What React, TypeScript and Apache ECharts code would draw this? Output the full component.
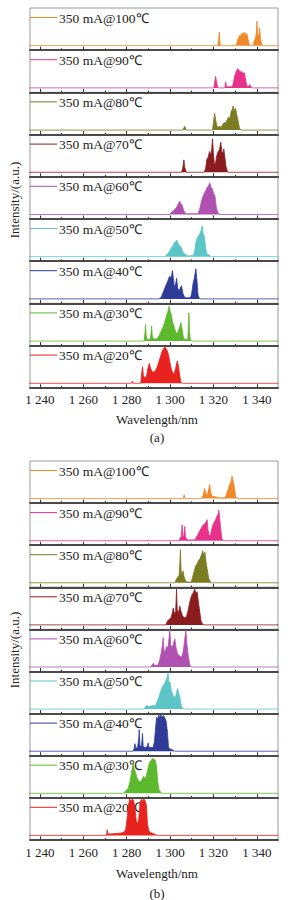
import React, { useEffect, useRef } from 'react';
import * as echarts from 'echarts';

// ---------- data ----------
const temps = [100, 90, 80, 70, 60, 50, 40, 30, 20];
const colors = ['#f0892a', '#e8328a', '#7b7b22', '#8b1c1e', '#b050b0', '#5cc5c5', '#2e3b98', '#5cb82c', '#e8221e'];
const majorTicks = [1240, 1260, 1280, 1300, 1320, 1340];
const minorTicks = [1250, 1270, 1290, 1310, 1330];
const xMin = 1235.4;
const xMax = 1349.8;

// panel (a)
const a100 = [[1235,0],[1322,0],[1322.4,0.15],[1322.7,0.36],[1323,0.1],[1323.3,0],[1330.5,0],[1331,0.12],[1331.6,0.22],[1332.2,0.28],[1332.7,0.25],[1333.2,0.34],[1333.7,0.3],[1334.3,0.36],[1334.8,0.27],[1335.4,0.33],[1335.9,0.2],[1336.4,0.05],[1337,0],[1338.3,0],[1338.8,0.12],[1339.4,0.2],[1339.8,0.35],[1340.1,0.65],[1340.4,0.3],[1340.9,0.25],[1341.3,0.48],[1341.7,0.2],[1342.3,0.03],[1343,0],[1350,0]];
const a90 = [[1235,0],[1320.2,0],[1320.6,0.15],[1321,0.31],[1321.4,0.18],[1321.9,0.03],[1322.4,0],[1325.3,0],[1325.7,0.16],[1326.1,0.02],[1326.5,0.03],[1328.8,0.03],[1329.4,0.2],[1330,0.35],[1330.6,0.45],[1331.2,0.51],[1331.8,0.47],[1332.4,0.42],[1333,0.44],[1333.6,0.38],[1334.3,0.4],[1334.9,0.2],[1335.4,0.05],[1336.3,0.04],[1336.8,0.09],[1337.3,0.02],[1338,0],[1350,0]];
const a80 = [[1235,0],[1306,0],[1306.4,0.06],[1306.8,0.1],[1307.2,0.03],[1307.6,0],[1319.6,0],[1320,0.2],[1320.6,0.44],[1321.1,0.25],[1321.6,0.1],[1322.3,0.08],[1323,0.1],[1323.6,0.07],[1324.3,0.15],[1325,0.2],[1325.7,0.18],[1326.3,0.27],[1327,0.35],[1327.6,0.3],[1328.2,0.5],[1328.7,0.55],[1329.1,0.64],[1329.6,0.52],[1330.2,0.58],[1330.8,0.4],[1331.4,0.25],[1332,0.06],[1332.6,0],[1350,0]];
const a70 = [[1235,0],[1305.3,0],[1305.8,0.1],[1306.1,0.2],[1306.4,0.33],[1306.7,0.15],[1307.2,0.05],[1307.6,0],[1315.8,0],[1316.4,0.1],[1317,0.35],[1317.6,0.4],[1318.2,0.55],[1318.7,0.45],[1319.2,0.6],[1319.6,0.89],[1320,0.5],[1320.5,0.2],[1321,0.25],[1321.6,0.45],[1322.2,0.55],[1322.8,0.6],[1323.4,0.8],[1323.9,0.55],[1324.4,0.5],[1324.8,0.62],[1325.3,0.4],[1325.8,0.15],[1326.4,0.03],[1327,0],[1350,0]];
const a60 = [[1235,0],[1299.8,0],[1300.6,0.05],[1301.5,0.1],[1302.5,0.15],[1303.3,0.22],[1304,0.3],[1304.5,0.35],[1305,0.28],[1305.6,0.25],[1306.2,0.12],[1306.8,0.05],[1307.5,0.02],[1312.8,0.02],[1313.6,0.12],[1314.3,0.3],[1315,0.45],[1315.7,0.55],[1316.4,0.62],[1317.1,0.72],[1317.7,0.75],[1318.3,0.84],[1318.9,0.72],[1319.5,0.68],[1320.1,0.55],[1320.7,0.5],[1321.3,0.2],[1322,0.06],[1322.8,0],[1350,0]];
const a50 = [[1235,0],[1297.5,0],[1298.5,0.05],[1299.5,0.12],[1300.5,0.22],[1301.3,0.3],[1302,0.37],[1302.7,0.4],[1303.1,0.44],[1303.7,0.36],[1304.4,0.3],[1305.1,0.25],[1305.9,0.12],[1306.7,0.08],[1307.6,0.04],[1308.5,0.02],[1310.8,0.03],[1311.4,0.15],[1312,0.4],[1312.6,0.5],[1313.2,0.55],[1313.8,0.62],[1314.4,0.7],[1314.8,0.82],[1315.3,0.6],[1315.8,0.55],[1316.3,0.3],[1316.8,0.1],[1317.5,0.06],[1318.3,0.03],[1319,0],[1350,0]];
const a40 = [[1235,0],[1295,0],[1296,0.05],[1297,0.2],[1298,0.35],[1298.8,0.45],[1299.4,0.55],[1299.9,0.6],[1300.5,0.55],[1301.1,0.75],[1301.6,0.5],[1302.1,0.3],[1302.6,0.4],[1303,0.55],[1303.5,0.3],[1304.1,0.2],[1304.7,0.28],[1305.3,0.35],[1305.9,0.15],[1306.6,0.05],[1307.5,0.03],[1309.4,0.03],[1310,0.15],[1310.6,0.4],[1311.2,0.55],[1311.9,0.8],[1312.4,0.5],[1312.9,0.1],[1313.5,0.02],[1314,0],[1350,0]];
const a30 = [[1235,0],[1288,0],[1288.4,0.2],[1288.7,0.44],[1289,0.15],[1289.5,0.04],[1290.8,0.04],[1291.2,0.2],[1291.5,0.4],[1291.8,0.12],[1292.5,0.05],[1294,0.06],[1295,0.15],[1295.8,0.25],[1296.6,0.35],[1297.3,0.45],[1298,0.6],[1298.6,0.72],[1299.1,0.8],[1299.6,0.93],[1300.1,0.78],[1300.6,0.7],[1301.2,0.5],[1301.8,0.4],[1302.4,0.28],[1303,0.2],[1303.7,0.25],[1304.3,0.35],[1305,0.49],[1305.6,0.3],[1306.2,0.08],[1307,0.04],[1308.2,0.05],[1308.5,0.4],[1308.7,0.75],[1308.9,0.35],[1309.3,0.04],[1310,0],[1350,0]];
const a20 = [[1235,0],[1282.2,0],[1282.6,0.05],[1283,0],[1286.5,0],[1286.9,0.25],[1287.3,0.44],[1287.7,0.2],[1288.4,0.15],[1289.2,0.2],[1289.8,0.4],[1290.4,0.53],[1291,0.4],[1291.8,0.3],[1292.6,0.3],[1293.4,0.35],[1294.2,0.45],[1295,0.6],[1295.8,0.75],[1296.6,0.88],[1297.6,0.97],[1298.4,0.9],[1299.1,0.8],[1299.8,0.6],[1300.5,0.4],[1301.2,0.28],[1301.9,0.25],[1302.6,0.4],[1303.3,0.59],[1303.9,0.45],[1304.5,0.2],[1305,0.03],[1305.6,0],[1350,0]];

// panel (b)
const b100 = [[1235,0],[1306,0],[1306.3,0.05],[1306.5,0.1],[1306.8,0.02],[1307.3,0],[1314.5,0],[1315.2,0.08],[1315.7,0.2],[1316,0.27],[1316.5,0.12],[1317.2,0.1],[1317.8,0.25],[1318.3,0.38],[1318.8,0.15],[1319.5,0.06],[1320.5,0.05],[1321.5,0.04],[1322.2,0.02],[1325.3,0.02],[1326,0.1],[1326.8,0.25],[1327.5,0.38],[1328.1,0.45],[1328.6,0.6],[1329.1,0.48],[1329.7,0.3],[1330.3,0.05],[1331,0],[1350,0]];
const b90 = [[1235,0],[1304,0],[1304.6,0.06],[1305.2,0.12],[1305.6,0.42],[1305.9,0.12],[1306.3,0.1],[1306.8,0.38],[1307.1,0.1],[1307.6,0.05],[1308.3,0.02],[1311.5,0.02],[1312.2,0.1],[1313,0.18],[1313.8,0.28],[1314.5,0.35],[1315.3,0.42],[1316,0.45],[1316.6,0.5],[1317.1,0.56],[1317.5,0.3],[1318,0.15],[1318.6,0.12],[1319.1,0.28],[1319.7,0.4],[1320.4,0.5],[1321,0.55],[1321.6,0.65],[1322.1,0.7],[1322.5,0.82],[1322.9,0.6],[1323.4,0.3],[1323.9,0.06],[1324.5,0],[1350,0]];
const b80 = [[1235,0],[1302.2,0],[1302.8,0.08],[1303.5,0.15],[1304.2,0.2],[1304.5,0.5],[1304.8,0.88],[1305.1,0.3],[1305.6,0.2],[1306,0.32],[1306.5,0.15],[1307.2,0.05],[1308,0.02],[1309.8,0.02],[1310.4,0.15],[1311.1,0.3],[1311.8,0.45],[1312.5,0.5],[1313.2,0.6],[1313.9,0.65],[1314.5,0.75],[1315.1,0.85],[1315.6,0.7],[1316.1,0.82],[1316.6,0.55],[1317.2,0.35],[1317.8,0.12],[1318.5,0.04],[1319.2,0],[1350,0]];
const b70 = [[1235,0],[1298,0],[1298.8,0.1],[1299.6,0.15],[1300.4,0.18],[1301,0.3],[1301.5,0.45],[1302,0.3],[1302.6,0.35],[1303,0.95],[1303.3,0.4],[1303.8,0.3],[1304.5,0.5],[1305.1,0.35],[1305.7,0.25],[1306.3,0.2],[1307,0.18],[1307.6,0.22],[1308.2,0.35],[1308.9,0.55],[1309.5,0.7],[1310.1,0.8],[1310.7,0.85],[1311.4,0.95],[1311.9,0.85],[1312.5,0.88],[1313.1,0.6],[1313.7,0.35],[1314.3,0.1],[1315,0.02],[1315.6,0],[1350,0]];
const b60 = [[1235,0],[1291.2,0],[1291.8,0.06],[1292.3,0.1],[1292.8,0.04],[1294.5,0.05],[1295.3,0.2],[1296,0.4],[1296.5,0.6],[1296.8,0.78],[1297.2,0.45],[1297.8,0.4],[1298.4,0.55],[1299,0.5],[1299.5,0.75],[1299.9,1.0],[1300.3,0.6],[1300.9,0.5],[1301.5,0.6],[1302.2,0.75],[1302.8,0.5],[1303.5,0.35],[1304.2,0.3],[1305,0.28],[1305.7,0.3],[1306.4,0.55],[1306.9,0.8],[1307.3,0.98],[1307.8,0.6],[1308.4,0.3],[1309.1,0.05],[1309.8,0],[1350,0]];
const b50 = [[1235,0],[1288,0],[1288.5,0.05],[1289.3,0.1],[1290.2,0.06],[1291.3,0.08],[1292.3,0.1],[1293.2,0.08],[1294,0.2],[1294.8,0.3],[1295.5,0.45],[1296.2,0.55],[1297,0.65],[1297.7,0.7],[1298.3,0.8],[1298.7,0.85],[1299.1,0.97],[1299.5,0.7],[1300,0.72],[1300.6,0.5],[1301.2,0.4],[1301.8,0.3],[1302.5,0.32],[1303,0.45],[1303.5,0.55],[1304,0.42],[1304.6,0.3],[1305.2,0.08],[1305.8,0.03],[1306.5,0],[1350,0]];
const b40 = [[1235,0],[1282.8,0],[1283.4,0.06],[1283.8,0.2],[1284.2,0.08],[1285,0.1],[1285.5,0.3],[1285.8,0.57],[1286.1,0.15],[1286.8,0.12],[1287.1,0.3],[1287.3,0.47],[1287.6,0.12],[1288.5,0.1],[1289.5,0.12],[1289.9,0.22],[1290.3,0.1],[1291.2,0.1],[1292.2,0.1],[1292.8,0.25],[1293.3,0.6],[1293.8,0.9],[1294.3,0.85],[1294.8,0.97],[1295.3,0.88],[1295.8,0.97],[1296.4,0.9],[1297,0.95],[1297.6,0.88],[1298.2,0.8],[1298.8,0.5],[1299.3,0.1],[1300,0.06],[1301,0.04],[1302,0],[1350,0]];
const b30 = [[1235,0],[1278.5,0],[1279.2,0.05],[1280,0.08],[1280.8,0.15],[1281.5,0.3],[1282.2,0.55],[1282.7,0.72],[1283,0.8],[1283.5,0.65],[1284.1,0.55],[1284.7,0.42],[1285.3,0.35],[1286,0.3],[1286.7,0.32],[1287.3,0.4],[1287.9,0.45],[1288.5,0.38],[1289,0.45],[1289.6,0.6],[1290.2,0.75],[1290.8,0.85],[1291.4,0.88],[1292,0.93],[1292.6,0.9],[1293.2,0.88],[1293.8,0.7],[1294.3,0.3],[1294.9,0.1],[1295.6,0.03],[1296.5,0],[1350,0]];
const b20 = [[1235,0],[1270.7,0],[1271,0.15],[1271.3,0.04],[1273,0.04],[1275,0.05],[1277,0.06],[1278.5,0.08],[1279.5,0.15],[1280.2,0.45],[1280.8,0.8],[1281.4,0.97],[1282,0.9],[1282.6,0.97],[1283.2,0.92],[1283.8,0.75],[1284.4,0.4],[1285,0.3],[1285.6,0.45],[1286.1,0.85],[1286.7,0.97],[1287.3,0.9],[1287.9,0.97],[1288.5,0.92],[1289.1,0.8],[1289.6,0.3],[1290.2,0.12],[1291,0.08],[1292,0.05],[1293,0.03],[1294,0],[1350,0]];

const panelA = [a100, a90, a80, a70, a60, a50, a40, a30, a20];
const panelB = [b100, b90, b80, b70, b60, b50, b40, b30, b20];

// ---------- layout ----------
const W = 298;
const H = 900;
const LEFT = 30;
const RIGHT = 20;
const FONT = 'Liberation Serif, serif';
const panels = [
  { top: 8, h: 42.2, data: panelA, tag: '(a)', labelMargin: 5, nameY: 419, tagY: 437, yLabelY: 200 },
  { top: 461, h: 42.1, data: panelB, tag: '(b)', labelMargin: 6, nameY: 873, tagY: 893, yLabelY: 650 },
];

const fmt = (v: number) => String(v).replace(/^(\d)(\d{3})$/, '$1 $2');

export default function App() {
  const ref = useRef<HTMLDivElement>(null);
  useEffect(() => {
    const chart = echarts.init(ref.current!, null, { renderer: 'svg' });
    const grid: any[] = [];
    const xAxis: any[] = [];
    const yAxis: any[] = [];
    const series: any[] = [];
    const graphic: any[] = [];
    const txt = (text: string, extra: any) => ({
      text, fill: '#222', fontSize: 13, fontFamily: FONT, ...extra,
    });
    panels.forEach((p) => {
      p.data.forEach((d, i) => {
        const gi = grid.length;
        const top = p.top + i * p.h;
        const last = i === p.data.length - 1;
        const color = colors[i];
        grid.push({
          left: LEFT, top, width: W - LEFT - RIGHT, height: p.h,
          show: true, borderColor: '#9a9a9a', borderWidth: 1, backgroundColor: 'transparent',
        });
        xAxis.push({
          type: 'value', gridIndex: gi, min: xMin, max: xMax, position: 'bottom',
          axisLine: { show: true, onZero: false, lineStyle: { color: '#4a4a4a', width: 2 } },
          axisTick: { show: true, inside: true, length: 3.5, customValues: majorTicks, lineStyle: { color: '#333', width: 1 } },
          axisLabel: {
            show: last, customValues: majorTicks, formatter: fmt, margin: p.labelMargin,
            fontSize: 13, fontFamily: FONT, color: '#222',
          },
          splitLine: { show: false },
        });
        xAxis.push({
          type: 'value', gridIndex: gi, min: xMin, max: xMax, position: 'bottom',
          axisLine: { show: false, onZero: false },
          axisTick: { show: true, inside: true, length: 1.8, customValues: minorTicks, lineStyle: { color: '#333', width: 1 } },
          axisLabel: { show: false },
          splitLine: { show: false },
        });
        yAxis.push({ type: 'value', gridIndex: gi, min: -0.12, max: 1, show: false, splitLine: { show: false } });
        series.push({
          type: 'line', xAxisIndex: 2 * gi, yAxisIndex: gi, data: d,
          showSymbol: false, symbol: 'none', silent: true, clip: true,
          lineStyle: { color, width: 0.8 },
          areaStyle: { color, opacity: 1, origin: 0 },
        });
        graphic.push({
          type: 'line', shape: { x1: LEFT, y1: top + 9.5, x2: LEFT + 27, y2: top + 9.5 },
          style: { stroke: color, lineWidth: 1 }, silent: true,
        });
        graphic.push({
          type: 'text', x: LEFT + 29, y: top + 10, silent: true,
          style: txt(`350 mA@${temps[i]}℃`, { verticalAlign: 'middle', fontSize: 13.5 }),
        });
      });
      graphic.push({
        type: 'text', x: 157, y: p.nameY,
        style: txt('Wavelength/nm', { align: 'center', verticalAlign: 'middle' }),
      });
      graphic.push({
        type: 'text', x: 157, y: p.tagY,
        style: txt(p.tag, { align: 'center', verticalAlign: 'middle' }),
      });
      graphic.push({
        type: 'text', x: 14, y: p.yLabelY, rotation: Math.PI / 2,
        style: txt('Intensity/(a.u.)', { align: 'center', verticalAlign: 'middle' }),
      });
    });
    chart.setOption({ animation: false, backgroundColor: '#ffffff', grid, xAxis, yAxis, series, graphic });
    return () => chart.dispose();
  }, []);
  return <div ref={ref} style={{ position: 'absolute', left: 0, top: 0, width: W, height: H }} />;
}
